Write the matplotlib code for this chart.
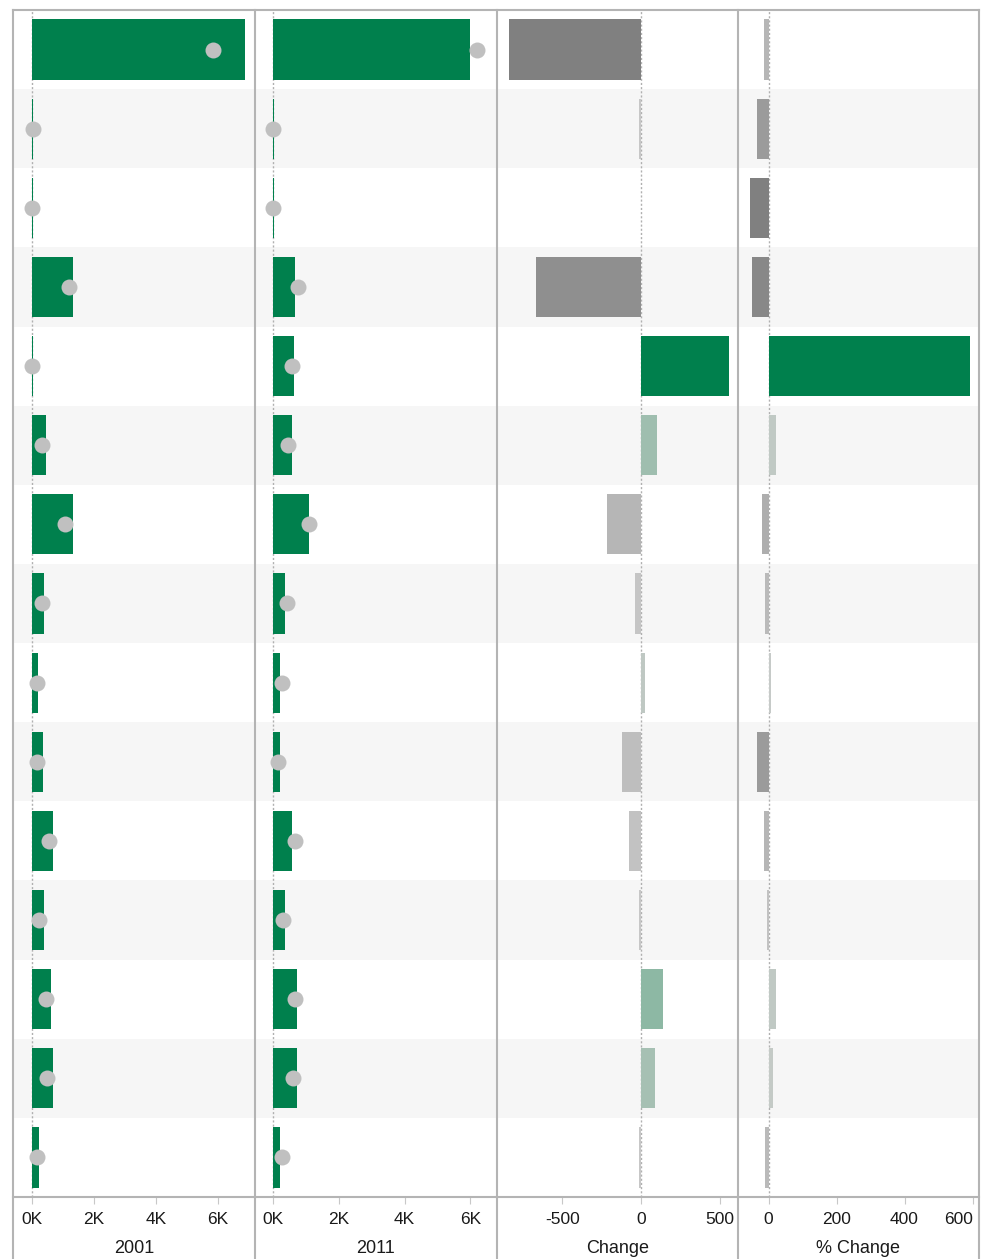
import numpy as np
import matplotlib
matplotlib.use('Agg')
import matplotlib.pyplot as plt
from matplotlib.colors import LinearSegmentedColormap, to_hex

plt.rcParams['font.family'] = ['Liberation Sans', 'DejaVu Sans']

# values (thousands for the first two panels)
val_2001 = [6.88, 0.05, 0.05, 1.32, 0.05, 0.46, 1.34, 0.39, 0.20, 0.36, 0.69, 0.39, 0.62, 0.69, 0.23]
ref_2001 = [5.84, 0.05, 0.01, 1.21, 0.01, 0.34, 1.06, 0.34, 0.17, 0.17, 0.56, 0.23, 0.45, 0.50, 0.17]
val_2011 = [6.00, 0.04, 0.04, 0.66, 0.63, 0.57, 1.09, 0.36, 0.20, 0.20, 0.57, 0.36, 0.72, 0.72, 0.20]
ref_2011 = [6.20, 0.00, 0.00, 0.77, 0.57, 0.46, 1.09, 0.42, 0.27, 0.15, 0.67, 0.31, 0.67, 0.62, 0.27]
change = [-835, -12, -3, -665, 557, 101, -215, -38, 25, -120, -76, -12, 139, 89, -12]
pct_change = [-14, -34, -55, -49, 592, 21, -20, -11, 6, -34, -14, -5, 21, 13, -11]

titles = ['2001', '2011', 'Change', '% Change']

GREEN = '#00804d'
DOT = '#c0c0c0'
EDGE = '#b4b4b4'

W, H = 981, 1259
fig = plt.figure(figsize=(W / 100, H / 100), dpi=100)

# panel edges in pixels
xs = [13, 255, 497, 738, 979]
top, bottom = 10, 1197

n = len(val_2001)
rows = np.arange(n)

neg_cmap = LinearSegmentedColormap.from_list('neg', ['#c8c8c8', '#808080'])
pos_cmap = LinearSegmentedColormap.from_list(
    'pos', [(0, '#c8cbc9'), (0.16, '#a5c0b3'), (0.25, '#8cb8a3'), (1, GREEN)])


def div_colors(vals):
    vals = np.asarray(vals, float)
    lo, hi = vals.min(), vals.max()
    out = []
    for v in vals:
        if v < 0:
            out.append(to_hex(neg_cmap(v / lo)))
        else:
            out.append(to_hex(pos_cmap(v / hi)))
    return out


def setup(ax, xlim, ticks, labels, title):
    ax.set_xlim(*xlim)
    ax.set_ylim(n - 0.5, -0.5)
    for i in range(1, n, 2):
        ax.axhspan(i - 0.5, i + 0.5, color='#f6f6f6', zorder=0, lw=0)
    ax.axvline(0, color='#b0b0b0', lw=1, ls=(0, (1.5, 1.5)), zorder=1)
    ax.set_yticks([])
    ax.set_xticks(ticks)
    ax.set_xticklabels(labels, fontsize=12.5, color='#1a1a1a')
    ax.tick_params(axis='x', length=5, color='#c8c8c8', pad=6)
    ax.set_xlabel(title, fontsize=13, color='#1a1a1a', labelpad=9)
    for s in ['left', 'right', 'top']:
        ax.spines[s].set_visible(False)
    ax.spines['bottom'].set_color(EDGE)
    ax.spines['bottom'].set_linewidth(1.5)
    ax.set_facecolor('white')


axes = []
for k in range(4):
    ax = fig.add_axes([xs[k] / W, (H - bottom) / H, (xs[k + 1] - xs[k]) / W, (bottom - top) / H])
    axes.append(ax)

bh = 0.76

ax = axes[0]
setup(ax, (-0.61, 7.19), [0, 2, 4, 6], ['0K', '2K', '4K', '6K'], titles[0])
ax.barh(rows, val_2001, height=bh, color=GREEN, zorder=2)
ax.plot(ref_2001, rows, 'o', ms=11.5, color=DOT, mec='none', zorder=3)

ax = axes[1]
setup(ax, (-0.55, 6.81), [0, 2, 4, 6], ['0K', '2K', '4K', '6K'], titles[1])
ax.barh(rows, val_2011, height=bh, color=GREEN, zorder=2)
ax.plot(ref_2011, rows, 'o', ms=11.5, color=DOT, mec='none', zorder=3)

ax = axes[2]
setup(ax, (-913, 614), [-500, 0, 500], ['-500', '0', '500'], titles[2])
ax.barh(rows, change, height=bh, color=div_colors(change), zorder=2)

ax = axes[3]
setup(ax, (-90, 619), [0, 200, 400, 600], ['0', '200', '400', '600'], titles[3])
ax.barh(rows, pct_change, height=bh, color=div_colors(pct_change), zorder=2)
# last tick label sits against the right edge, as in the reference
ax.get_xticklabels()[-1].set_horizontalalignment('right')

# frame: top line and vertical separators running to the bottom edge
fig.add_artist(plt.Line2D([xs[0] / W, xs[-1] / W], [(H - top) / H] * 2, color=EDGE, lw=1.5))
for x in xs:
    fig.add_artist(plt.Line2D([x / W, x / W], [0, (H - top) / H], color=EDGE, lw=1.5))

fig.savefig('out.png', dpi=100)
